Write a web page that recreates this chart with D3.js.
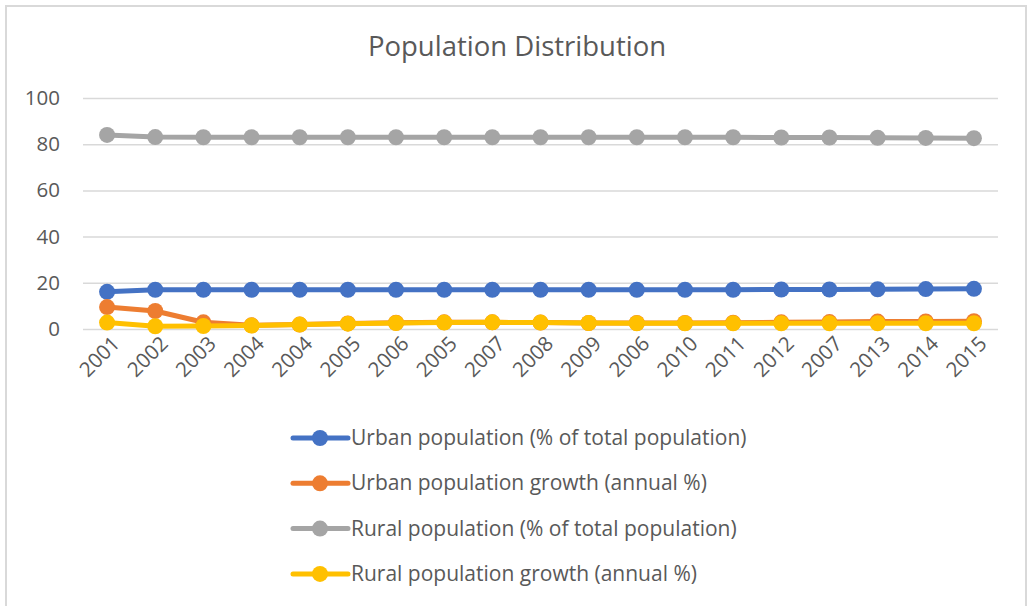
<!DOCTYPE html>
<html><head><meta charset="utf-8">
<script src="https://cdn.jsdelivr.net/npm/d3@7/dist/d3.min.js"></script>
<style>body{margin:0;background:#fff;} svg{display:block;}</style>
</head><body>
<svg id="c" width="1029" height="606"></svg>
<script>
const years = ["2001","2002","2003","2004","2004","2005","2006","2005","2007","2008","2009","2006","2010","2011","2012","2007","2013","2014","2015"];
const urbanPct = [16.1,17.0,17.0,17.0,17.0,17.0,17.0,17.0,17.0,17.0,17.0,17.0,17.0,17.0,17.1,17.1,17.2,17.3,17.4];
const urbanGrowth = [9.5,7.8,2.9,1.6,1.9,2.4,2.7,2.9,2.9,2.8,2.6,2.6,2.6,2.7,2.9,3.0,3.2,3.3,3.4];
const ruralPct = [84.0,83.1,83.0,83.0,83.0,83.0,83.0,83.0,83.0,83.0,83.0,83.0,83.0,83.0,82.9,82.9,82.8,82.7,82.6];
const ruralGrowth = [2.8,1.2,1.3,1.5,1.9,2.3,2.6,2.8,2.9,2.8,2.6,2.5,2.5,2.5,2.5,2.5,2.5,2.5,2.5];
const yTicks = [0,20,40,60,80,100];
const seriesNames = ["Urban population (% of total population)","Urban population growth (annual %)","Rural population (% of total population)","Rural population growth (annual %)"];
const seriesColors = ["#4472c4","#ed7d31","#a5a5a5","#ffc000"];
const seriesData = [urbanPct, urbanGrowth, ruralPct, ruralGrowth];

const svg = d3.select("#c");
const FONT = "'Open Sans', 'Liberation Sans', sans-serif";
// frame
svg.append("rect").attr("x",6).attr("y",6).attr("width",1020).attr("height",606).attr("fill","none").attr("stroke","#d9d9d9").attr("stroke-width",2);

svg.append("text").attr("x",517).attr("y",56).attr("text-anchor","middle")
  .attr("font-family",FONT).attr("font-size",27.5).attr("fill","#595959").text("Population Distribution");

const x = d3.scaleBand().domain(d3.range(years.length)).range([83,998]);
const y = d3.scaleLinear().domain([0,100]).range([329,98]);

const yAxis = svg.append("g").attr("transform","translate(83,0)")
  .call(d3.axisLeft(y).tickValues(yTicks).tickSize(-915).tickPadding(23));
yAxis.select(".domain").remove();
yAxis.selectAll("line").attr("stroke","#d9d9d9").attr("stroke-width",1.5);
yAxis.selectAll("text").attr("font-family",FONT).attr("font-size",20.5).attr("fill","#595959");

const xAxis = svg.append("g").attr("transform","translate(0,329)")
  .call(d3.axisBottom(x).tickFormat(i=>years[i]).tickSize(0));
xAxis.select(".domain").remove();
xAxis.selectAll("text").attr("font-family",FONT).attr("font-size",20.5).attr("fill","#595959")
  .attr("text-anchor","end").attr("dy",0).attr("y",0)
  .attr("transform","translate(14,16) rotate(-45)");

const line = d3.line().x((d,i)=>x(i)+x.bandwidth()/2).y(d=>y(d));
seriesData.forEach((vals,k)=>{
  const g = svg.append("g");
  g.append("path").datum(vals).attr("d",line).attr("fill","none")
    .attr("stroke",seriesColors[k]).attr("stroke-width",5).attr("stroke-linejoin","round");
  g.selectAll("circle").data(vals).join("circle")
    .attr("cx",(d,i)=>x(i)+x.bandwidth()/2).attr("cy",d=>y(d)).attr("r",8).attr("fill",seriesColors[k]);
});

const leg = svg.append("g");
seriesNames.forEach((n,k)=>{
  const yy = 438 + k*45.3;
  leg.append("line").attr("x1",293).attr("x2",348).attr("y1",yy).attr("y2",yy)
    .attr("stroke",seriesColors[k]).attr("stroke-width",5).attr("stroke-linecap","round");
  leg.append("circle").attr("cx",320).attr("cy",yy).attr("r",8).attr("fill",seriesColors[k]);
  leg.append("text").attr("x",351).attr("y",yy+7).attr("font-family",FONT).attr("font-size",21)
    .attr("fill","#595959").text(n);
});
</script>
</body></html>
